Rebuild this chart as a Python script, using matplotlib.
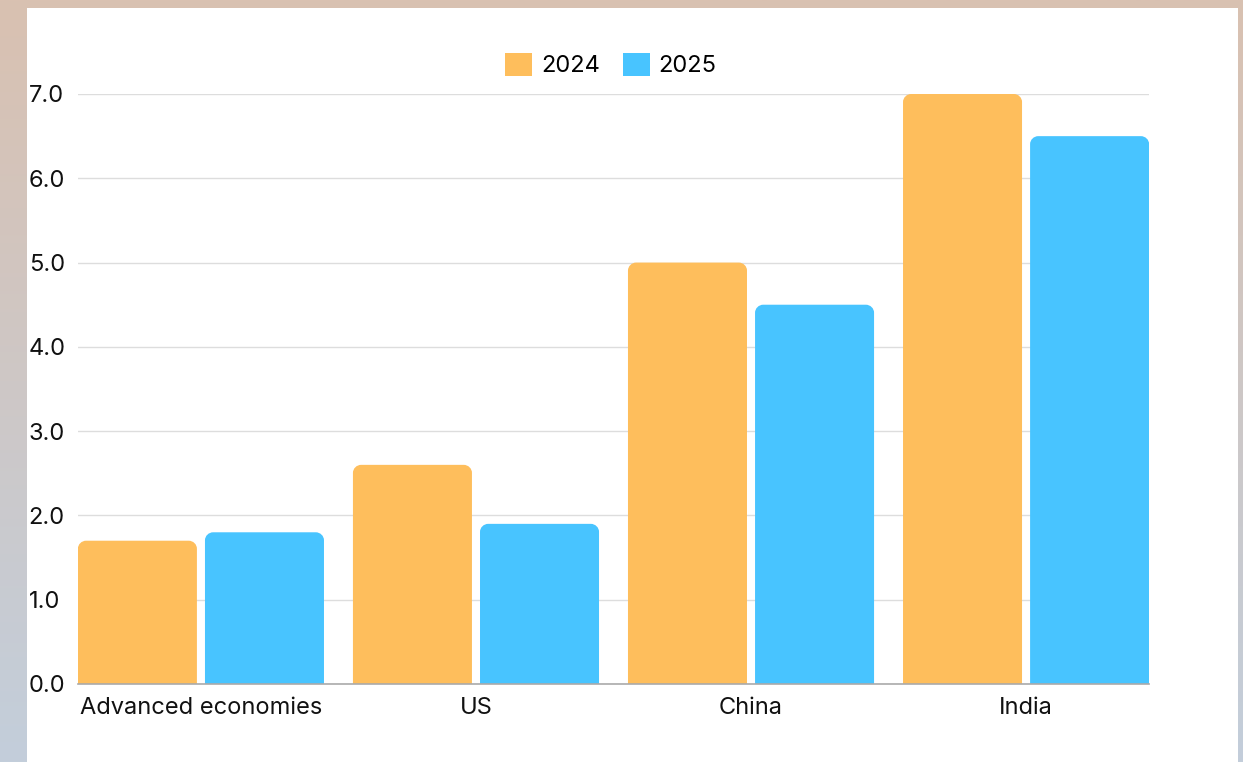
import matplotlib
matplotlib.use("Agg")
import matplotlib.pyplot as plt
import numpy as np
from matplotlib.patches import Rectangle, PathPatch
from matplotlib.path import Path

categories = ["Advanced economies", "US", "China", "India"]
series_names = ["2024", "2025"]
values_2024 = [1.7, 2.6, 5.0, 7.0]
values_2025 = [1.8, 1.9, 4.5, 6.5]
yticks = [0, 1, 2, 3, 4, 5, 6, 7]

ORANGE = "#FEBE5C"
BLUE = "#48C4FF"

plt.rcParams["font.family"] = ["Inter", "DejaVu Sans"]

W, H = 1243, 762
fig = plt.figure(figsize=(W / 100, H / 100), dpi=100)

# background gradient (tan at the top, grey-blue at the bottom)
bg = fig.add_axes([0, 0, 1, 1], zorder=-10)
top = np.array([217, 193, 177]) / 255
bot = np.array([195, 206, 219]) / 255
t = np.linspace(0, 1, 256)[:, None]
grad = (top[None, :] * (1 - t) + bot[None, :] * t)[:, None, :]
bg.imshow(grad, aspect="auto", extent=[0, 1, 0, 1])
bg.add_patch(Rectangle((27 / W, 0), (1238 - 27) / W, (H - 8) / H,
                       facecolor="white", edgecolor="none"))
bg.set_xlim(0, 1)
bg.set_ylim(0, 1)
bg.axis("off")

ax = fig.add_axes([78 / W, (H - 684) / H, (1149 - 78) / W, 590 / H])
ax.set_facecolor("none")

x = np.arange(len(categories))
width = 0.4327
offset = 0.231


def rounded_top(rect, rx, ry):
    """Swap a bar rectangle for a path with rounded upper corners."""
    x0, y0 = rect.get_x(), rect.get_y()
    w, h = rect.get_width(), rect.get_height()
    x1, y1 = x0 + w, y0 + h
    k = 0.5523
    verts = [
        (x0, y0), (x0, y1 - ry),
        (x0, y1 - ry + k * ry), (x0 + rx - k * rx, y1), (x0 + rx, y1),
        (x1 - rx, y1),
        (x1 - rx + k * rx, y1), (x1, y1 - ry + k * ry), (x1, y1 - ry),
        (x1, y0), (x0, y0),
    ]
    codes = [Path.MOVETO, Path.LINETO,
             Path.CURVE4, Path.CURVE4, Path.CURVE4,
             Path.LINETO,
             Path.CURVE4, Path.CURVE4, Path.CURVE4,
             Path.LINETO, Path.CLOSEPOLY]
    return Path(verts, codes)


for vals, color, dx, name in [(values_2024, ORANGE, -offset, series_names[0]),
                              (values_2025, BLUE, offset, series_names[1])]:
    bars = ax.bar(x + dx, vals, width=width, color=color, label=name, zorder=3)
    for r in bars:
        r.set_visible(False)
        ax.add_patch(PathPatch(rounded_top(r, 0.03, 0.095), facecolor=color,
                               edgecolor="none", zorder=3))

ax.set_xlim(-0.447, 3.447)
ax.set_ylim(0, 7)
ax.set_yticks(yticks)
ax.set_yticklabels([f"{v:.1f}" for v in yticks], ha="left")
ax.set_xticks(x)
ax.set_xticklabels(categories)
ax.tick_params(axis="y", length=0, pad=35.5, labelsize=17, labelcolor="#111111")
ax.tick_params(axis="x", length=0, pad=9.5, labelsize=17, labelcolor="#111111")
ax.grid(axis="y", color="#dddddd", linewidth=1, zorder=0)
ax.set_axisbelow(True)
for side in ["top", "right", "left"]:
    ax.spines[side].set_visible(False)
ax.spines["bottom"].set_color("#aaaaaa")
ax.spines["bottom"].set_linewidth(1.2)
ax.spines["bottom"].set_zorder(4)

handles = [Rectangle((0, 0), 1, 1, facecolor=ORANGE),
           Rectangle((0, 0), 1, 1, facecolor=BLUE)]
fig.legend(handles, series_names, loc="center", ncol=2, frameon=False,
           bbox_to_anchor=(611 / W, 1 - 65 / H), fontsize=17,
           handlelength=1.15, handleheight=1.15, handletextpad=0.35,
           columnspacing=1.0)

fig.savefig("out.png", dpi=100)
